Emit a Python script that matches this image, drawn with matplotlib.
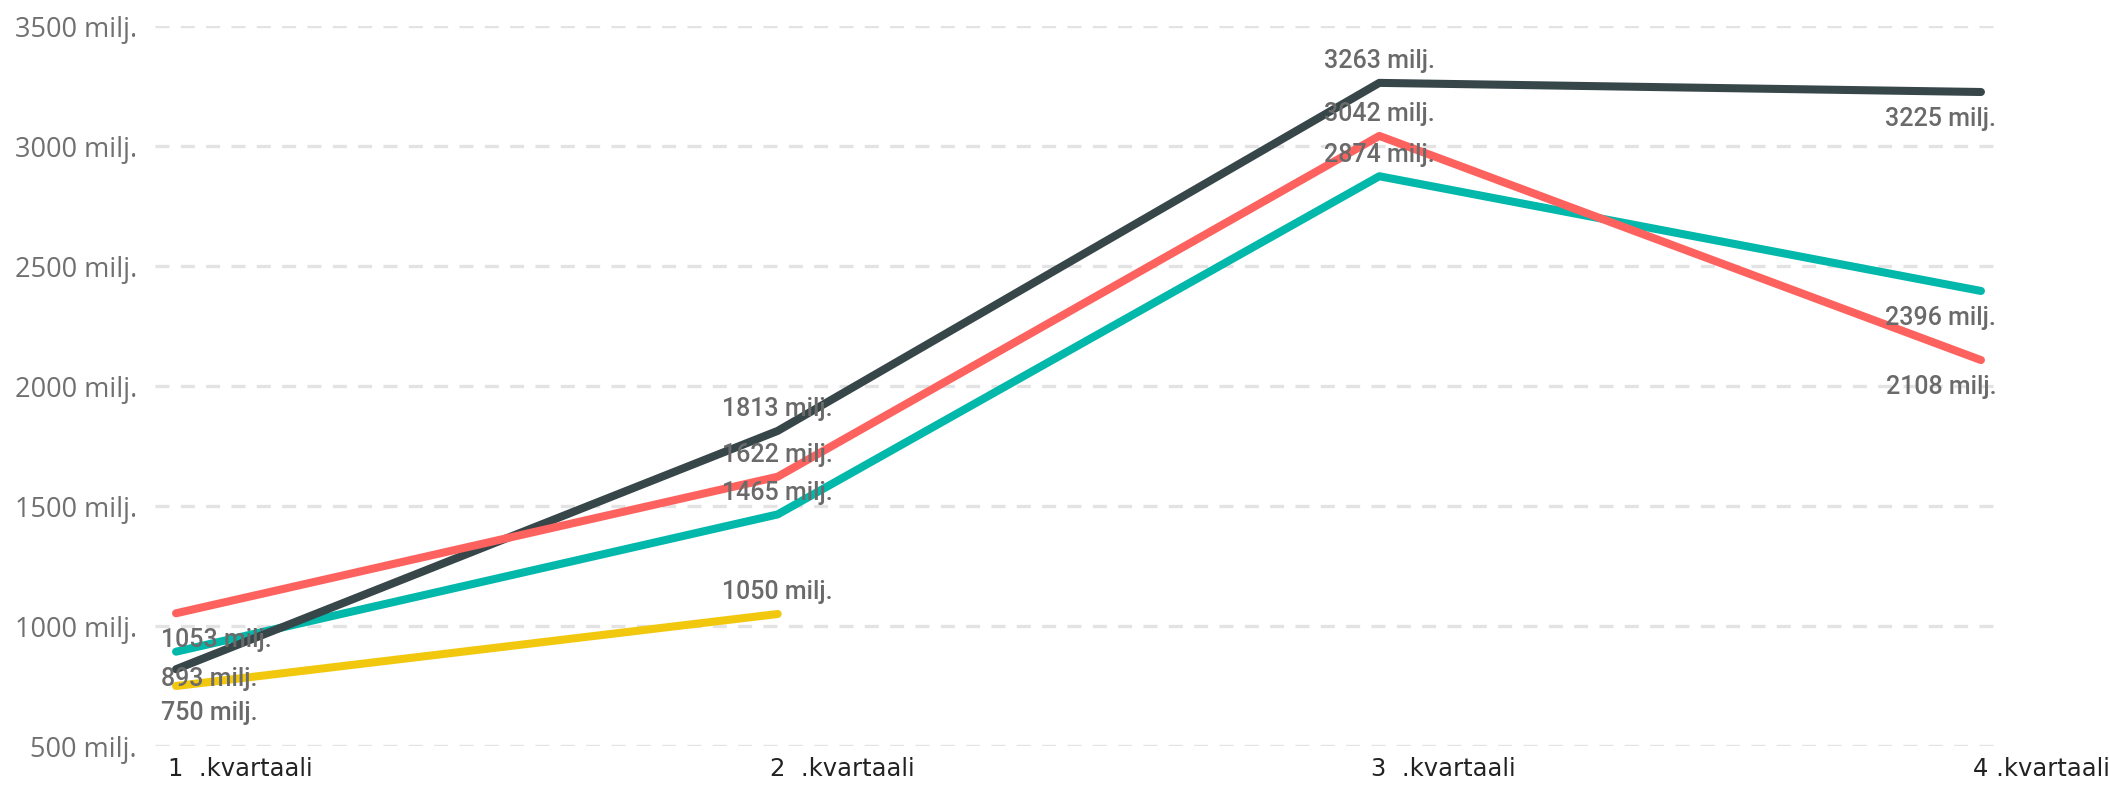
import numpy as np
import matplotlib.pyplot as plt
from matplotlib.transforms import ScaledTranslation

# quarters and values (milj.)
quarters = ["1  .kvartaali", "2  .kvartaali", "3  .kvartaali", "4 .kvartaali"]
teal_vals = [893, 1465, 2874, 2396]
dark_vals = [820, 1813, 3263, 3225]
red_vals = [1053, 1622, 3042, 2108]
yellow_vals = [750, 1050]

series = [
    (teal_vals, "#01B8AA"),
    (dark_vals, "#374649"),
    (red_vals, "#FD625E"),
    (yellow_vals, "#F2C80F"),
]
# labels that Power BI hid because of overlap: (series index, point index)
hidden = [(1, 0)]

fig = plt.figure(figsize=(21.09, 7.85), dpi=100)
ax = fig.add_axes([155 / 2109, 39 / 785, (2002 - 155) / 2109, 720 / 785])

x = np.arange(len(quarters))
for i, (vals, col) in enumerate(series):
    ax.plot(x[:len(vals)], vals, color=col, lw=5.8, solid_capstyle="round",
            solid_joinstyle="round", zorder=3 + i, clip_on=False)

# data labels: below at the ends, above in the middle
for i, (vals, col) in enumerate(series):
    for j, v in enumerate(vals):
        if (i, j) in hidden:
            continue
        if j == 0:
            dx, ha = -11, "left"
        elif j == len(quarters) - 1:
            dx, ha = 11, "right"
        else:
            dx, ha = 0, "center"
        dy = -19.5 if j in (0, len(quarters) - 1) else 15.5
        ax.annotate(f"{v} milj.", (x[j], v), xytext=(dx, dy),
                    textcoords="offset points", ha=ha, va="center",
                    fontsize=18, color="#6a6a6a", family="Roboto",
                    fontweight="medium", zorder=10)

ax.set_xlim(-0.035, 3.035)
ax.set_ylim(500, 3500)
ax.set_yticks(np.arange(500, 3501, 500))
ax.set_yticklabels([f"{t} milj." for t in range(500, 3501, 500)],
                   fontsize=19.5, color="#707070", family="Open Sans")
ax.tick_params(axis="y", length=0, pad=13)
ax.set_xticks(x)
ax.set_xticklabels(quarters, fontsize=17.5, color="#222222", ha="left",
                   family=["Liberation Sans Narrow", "DejaVu Sans"])
ax.tick_params(axis="x", length=0, pad=8)
off = ScaledTranslation(-8 / 100, 0, fig.dpi_scale_trans)
for lab in ax.get_xticklabels():
    lab.set_transform(lab.get_transform() + off)

ax.grid(axis="y", color="#e3e3e3", lw=2.4, linestyle=(0, (4.2, 3.4)))
ax.set_axisbelow(True)
for s in ax.spines.values():
    s.set_visible(False)

fig.savefig("out.png", dpi=100)
